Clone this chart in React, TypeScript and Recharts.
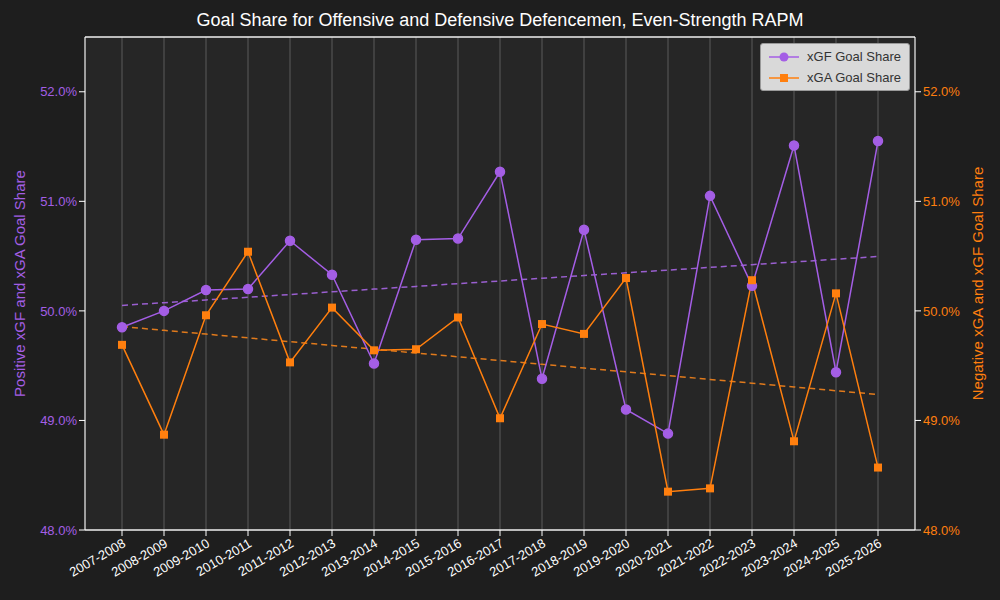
import React from 'react';
import { ComposedChart, Line, XAxis, YAxis, CartesianGrid, ReferenceLine } from 'recharts';

const seasons = ['2007-2008','2008-2009','2009-2010','2010-2011','2011-2012','2012-2013','2013-2014','2014-2015','2015-2016','2016-2017','2017-2018','2018-2019','2019-2020','2020-2021','2021-2022','2022-2023','2023-2024','2024-2025','2025-2026'];
const xgf = [49.85,50.0,50.19,50.2,50.64,50.33,49.52,50.65,50.66,51.27,49.38,50.74,49.1,48.88,51.05,50.23,51.51,49.44,51.55];
const xga = [49.69,48.87,49.96,50.54,49.53,50.03,49.64,49.65,49.94,49.02,49.88,49.79,50.3,48.35,48.38,50.28,48.81,50.16,48.57];
const yTicks = [48, 49, 50, 51, 52];

function fit(v: number[]) {
  const n = v.length;
  const mx = (n - 1) / 2;
  const my = v.reduce((a, b) => a + b, 0) / n;
  let num = 0, den = 0;
  v.forEach((y, i) => { num += (i - mx) * (y - my); den += (i - mx) ** 2; });
  const b = num / den;
  return v.map((_, i) => my + b * (i - mx));
}
const tGF = fit(xgf);
const tGA = fit(xga);
const data = seasons.map((s, i) => ({ s, xgf: xgf[i], xga: xga[i], tgf: tGF[i], tga: tGA[i] }));

const PURPLE = '#a45ee5';
const ORANGE = '#ff7f0e';
const font = '"Liberation Sans", Arial, sans-serif';

const LegendBox = () => (
  <div style={{ position: 'absolute', right: 90, top: 43, background: '#d9d9d9', border: '1px solid #999', borderRadius: 3, padding: '2px 8px', fontFamily: font, fontSize: 13, color: '#333' }}>
    {[{ c: PURPLE, t: 'xGF Goal Share', sq: false }, { c: ORANGE, t: 'xGA Goal Share', sq: true }].map((e) => (
      <div key={e.t} style={{ display: 'flex', alignItems: 'center', height: 21 }}>
        <svg width={30} height={12} style={{ marginRight: 8 }}>
          <line x1={0} y1={6} x2={30} y2={6} stroke={e.c} strokeWidth={1.5} />
          {e.sq ? <rect x={11} y={2} width={8} height={8} fill={e.c} /> : <circle cx={15} cy={6} r={4.5} fill={e.c} />}
        </svg>
        {e.t}
      </div>
    ))}
  </div>
);

export default function App() {
  return (
    <div style={{ position: 'absolute', left: 0, top: 0, width: 1000, height: 600, background: '#1e1e1e' }}>
      <div style={{ position: 'absolute', top: 10, width: 1000, textAlign: 'center', color: '#fff', fontFamily: font, fontSize: 18 }}>
        Goal Share for Offensive and Defensive Defencemen, Even-Strength RAPM
      </div>
      <ComposedChart width={1000} height={600} data={data} margin={{ top: 37, right: 0, left: 0, bottom: 0 }} style={{ fontFamily: font }}>
        <CartesianGrid horizontal={false} stroke="#5a5a5a" fill="#262626" />
        <CartesianGrid vertical={false} stroke="#d0d0d0" />
        <XAxis dataKey="s" height={70} padding={{ left: 37, right: 37 }} interval={0} angle={-30} textAnchor="end"
          tick={{ fill: '#fff', fontSize: 13 }} stroke="#fff" tickLine={{ stroke: '#fff' }} />
        <YAxis yAxisId="l" width={85} domain={[48, 52.5]} ticks={yTicks} tickFormatter={(v) => v.toFixed(1) + '%'}
          tick={{ fill: PURPLE, fontSize: 13 }} stroke="#fff" allowDataOverflow
          label={{ value: 'Positive xGF and xGA Goal Share', angle: -90, position: 'insideLeft', offset: 20, fill: PURPLE, fontSize: 15, style: { textAnchor: 'middle' } }} />
        <YAxis yAxisId="r" orientation="right" width={85} domain={[48, 52.5]} ticks={yTicks} tickFormatter={(v) => v.toFixed(1) + '%'}
          tick={{ fill: ORANGE, fontSize: 13 }} stroke="#fff" allowDataOverflow
          label={{ value: 'Negative xGA and xGF Goal Share', angle: -90, position: 'insideRight', offset: 22, fill: ORANGE, fontSize: 15, style: { textAnchor: 'middle' } }} />
        <ReferenceLine yAxisId="l" y={52.5} stroke="#fff" />
        <Line yAxisId="l" dataKey="tgf" stroke="#9a5fd0" strokeDasharray="6 4" strokeWidth={1.5} dot={false} legendType="none" isAnimationActive={false} />
        <Line yAxisId="l" dataKey="tga" stroke="#e07a1c" strokeDasharray="6 4" strokeWidth={1.5} dot={false} legendType="none" isAnimationActive={false} />
        <Line yAxisId="l" dataKey="xgf" stroke={PURPLE} strokeWidth={1.5} dot={{ r: 4.5, fill: PURPLE, stroke: PURPLE }} isAnimationActive={false} />
        <Line yAxisId="l" dataKey="xga" stroke={ORANGE} strokeWidth={1.5}
          dot={(p: any) => <rect key={p.index} x={p.cx - 4} y={p.cy - 4} width={8} height={8} fill={ORANGE} />} isAnimationActive={false} />
      </ComposedChart>
      <LegendBox />
    </div>
  );
}
